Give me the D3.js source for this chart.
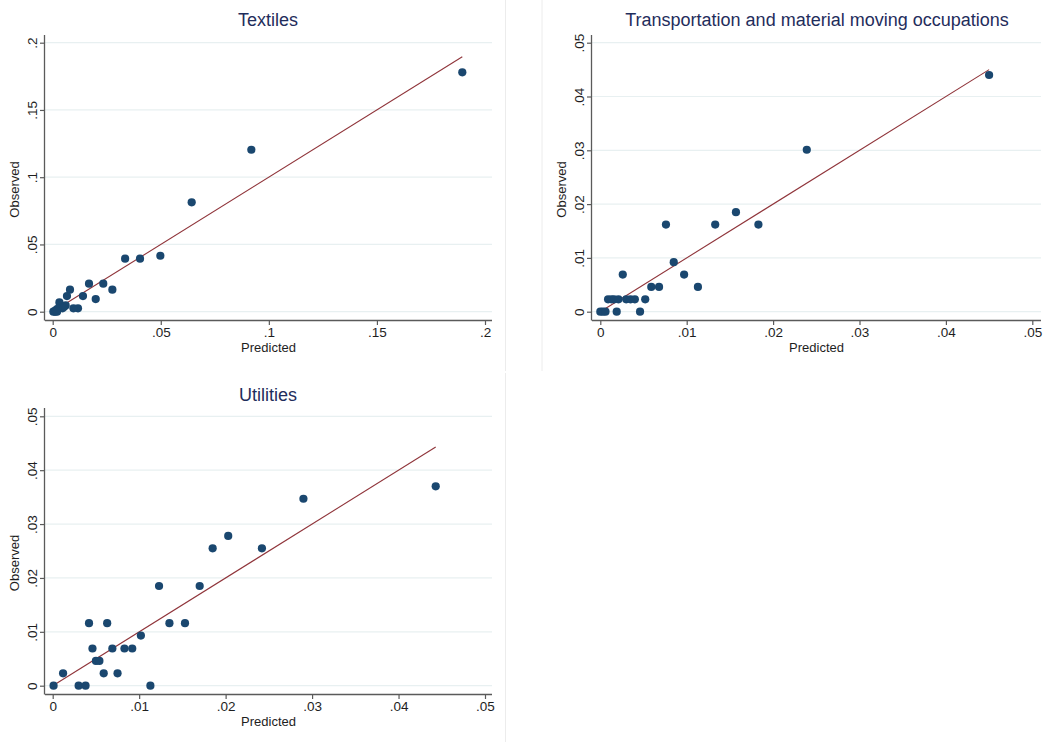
<!DOCTYPE html>
<html>
<head>
<meta charset="utf-8">
<script src="https://cdn.jsdelivr.net/npm/d3@7"></script>
<style>
  html, body { margin: 0; padding: 0; background: #fff; }
  svg { display: block; font-family: "Liberation Sans", Arial, sans-serif; }
</style>
</head>
<body>
<svg id="chart" width="1043" height="742"></svg>
<script>
// ---- Data: predicted vs observed shares, one pair of arrays per industry ----
const textilesPredicted = [0.1895, 0.0919, 0.0643, 0.0498, 0.0404, 0.0335, 0.0276, 0.0234, 0.0168, 0.0199,
  0.0140, 0.0117, 0.0096, 0.0080, 0.0066, 0.0031, 0.0060, 0.0052, 0.0045, 0.0022, 0.0015, 0.0008, 0.0003, 0.0012, 0.0020];
const textilesObserved = [0.1780, 0.1204, 0.0813, 0.0416, 0.0394, 0.0394, 0.0164, 0.0208, 0.0208, 0.0094,
  0.0116, 0.0025, 0.0025, 0.0164, 0.0116, 0.0069, 0.0047, 0.0035, 0.0025, 0.0022, 0.0012, 0.0003, 0.0000, 0.0000, 0.0000];

const transportPredicted = [0.0450, 0.0239, 0.0157, 0.0183, 0.0133, 0.0076, 0.0085, 0.0097, 0.0113, 0.0068,
  0.0059, 0.0052, 0.0046, 0.0026, 0.0019, 0.0000, 0.0003, 0.0006,
  0.0009, 0.0013, 0.0016, 0.0021, 0.0030, 0.0035, 0.0040];
const transportObserved = [0.0440, 0.0301, 0.0185, 0.0162, 0.0162, 0.0162, 0.0092, 0.0069, 0.0046, 0.0046,
  0.0046, 0.0023, 0.0000, 0.0069, 0.0000, 0.0000, 0.0000, 0.0000,
  0.0023, 0.0023, 0.0023, 0.0023, 0.0023, 0.0023, 0.0023];

const utilitiesPredicted = [0.0443, 0.0290, 0.0203, 0.0185, 0.0242, 0.0170, 0.0123, 0.0135, 0.0153, 0.0102,
  0.0092, 0.0083, 0.0069, 0.0046, 0.0042, 0.0063, 0.0050, 0.0054, 0.0059, 0.0075, 0.0012, 0.0113, 0.0030, 0.0038, 0.0001];
const utilitiesObserved = [0.0370, 0.0347, 0.0278, 0.0255, 0.0255, 0.0185, 0.0185, 0.0116, 0.0116, 0.0093,
  0.0069, 0.0069, 0.0069, 0.0069, 0.0116, 0.0116, 0.0046, 0.0046, 0.0023, 0.0023, 0.0023, 0.0000, 0.0000, 0.0000, 0.0000];

const ticksWide = [0, 0.05, 0.1, 0.15, 0.2];
const ticksNarrow = [0, 0.01, 0.02, 0.03, 0.04, 0.05];
const axisTitleX = "Predicted";
const axisTitleY = "Observed";

// Stata-style labels: no leading zero
const fmt = v => v === 0 ? "0" : String(+v.toFixed(3)).replace(/^0\./, ".");

// ---- Panel layout ----
const panels = [
  { title: "Textiles", pred: textilesPredicted, obs: textilesObserved, ticks: ticksWide,
    axisLeft: 45, axisBottom: 320, right: 492, top: 35,
    xRange: [52.7, 485], yRange: [311.7, 42.7], titleX: 268, titleY: 26 },
  { title: "Transportation and material moving occupations", pred: transportPredicted, obs: transportObserved, ticks: ticksNarrow,
    axisLeft: 592, axisBottom: 320, right: 1041, top: 35,
    xRange: [600.3, 1032.3], yRange: [311.7, 42.7], titleX: 817, titleY: 26 },
  { title: "Utilities", pred: utilitiesPredicted, obs: utilitiesObserved, ticks: ticksNarrow,
    axisLeft: 45, axisBottom: 694, right: 492, top: 408,
    xRange: [52.7, 485], yRange: [685.7, 416.3], titleX: 268, titleY: 401 }
];

const svg = d3.select("#chart");

// faint borders of the combined graph regions
const borders = [
  { x: 505.5, y1: 0, y2: 371 },
  { x: 542, y1: 0, y2: 371 },
  { x: 505.5, y1: 373, y2: 742 }
];
svg.selectAll("line.border").data(borders).join("line")
  .attr("class", "border")
  .attr("x1", d => d.x).attr("x2", d => d.x)
  .attr("y1", d => d.y1).attr("y2", d => d.y2)
  .attr("stroke", "#ececec").attr("stroke-width", 1);

const gridColor = "#e8f0f1";
const axisColor = "#5a5a5a";
const textColor = "#1e1e1e";
const dotColor = "#1a476f";
const lineColor = "#90353b";

panels.forEach(p => {
  const g = svg.append("g");
  const dom = [p.ticks[0], p.ticks[p.ticks.length - 1]];
  const x = d3.scaleLinear().domain(dom).range(p.xRange);
  const y = d3.scaleLinear().domain(dom).range(p.yRange);

  // horizontal gridlines
  g.selectAll("line.grid").data(p.ticks).join("line")
    .attr("class", "grid")
    .attr("x1", p.axisLeft).attr("x2", p.right)
    .attr("y1", d => y(d)).attr("y2", d => y(d))
    .attr("stroke", gridColor).attr("stroke-width", 1.2);

  // x axis
  const xAxis = g.append("g")
    .attr("transform", `translate(0,${p.axisBottom})`)
    .call(d3.axisBottom(x).tickValues(p.ticks).tickFormat(fmt).tickSize(5).tickSizeOuter(0));
  xAxis.select(".domain").remove();
  xAxis.append("line").attr("x1", p.axisLeft).attr("x2", p.right).attr("y1", 0.5).attr("y2", 0.5)
    .attr("stroke", axisColor).attr("stroke-width", 1.3);
  xAxis.selectAll(".tick line").attr("stroke", axisColor).attr("stroke-width", 1.2);
  xAxis.selectAll(".tick text").attr("fill", textColor).attr("font-size", 13.5)
    .attr("font-family", "Liberation Sans, Arial, sans-serif").attr("dy", "0.71em").attr("y", 7);

  // y axis with rotated labels
  const yAxis = g.append("g")
    .attr("transform", `translate(${p.axisLeft},0)`)
    .call(d3.axisLeft(y).tickValues(p.ticks).tickFormat(fmt).tickSize(5).tickSizeOuter(0));
  yAxis.select(".domain").remove();
  yAxis.append("line").attr("x1", -0.5).attr("x2", -0.5).attr("y1", p.top).attr("y2", p.axisBottom + 0.5)
    .attr("stroke", axisColor).attr("stroke-width", 1.3);
  yAxis.selectAll(".tick line").attr("stroke", axisColor).attr("stroke-width", 1.2);
  yAxis.selectAll(".tick text")
    .attr("fill", textColor).attr("font-size", 13.5)
    .attr("font-family", "Liberation Sans, Arial, sans-serif")
    .attr("x", null).attr("dy", null)
    .attr("text-anchor", "middle")
    .attr("transform", "translate(-8,0) rotate(-90)")
    .attr("y", 0);

  // axis titles
  g.append("text")
    .attr("x", (p.axisLeft + p.right) / 2)
    .attr("y", p.axisBottom + 32)
    .attr("text-anchor", "middle").attr("font-size", 13).attr("fill", textColor)
    .text(axisTitleX);
  g.append("text")
    .attr("transform", `translate(${p.axisLeft - 26},${(p.top + p.axisBottom) / 2 + 12}) rotate(-90)`)
    .attr("text-anchor", "middle").attr("font-size", 13).attr("fill", textColor)
    .text(axisTitleY);

  // title
  g.append("text")
    .attr("x", p.titleX).attr("y", p.titleY)
    .attr("text-anchor", "middle").attr("font-size", 18).attr("fill", "#1f2d5c")
    .text(p.title);

  // 45-degree reference line over the range of predictions
  const ext = d3.extent(p.pred);
  g.append("line")
    .attr("x1", x(ext[0])).attr("y1", y(ext[0]))
    .attr("x2", x(ext[1])).attr("y2", y(ext[1]))
    .attr("stroke", lineColor).attr("stroke-width", 1.1);

  // scatter points
  const pts = p.pred.map((v, i) => ({ pred: v, obs: p.obs[i] }));
  g.selectAll("circle").data(pts).join("circle")
    .attr("cx", d => x(d.pred)).attr("cy", d => y(d.obs))
    .attr("r", 4.1).attr("fill", dotColor);
});
</script>
</body>
</html>
